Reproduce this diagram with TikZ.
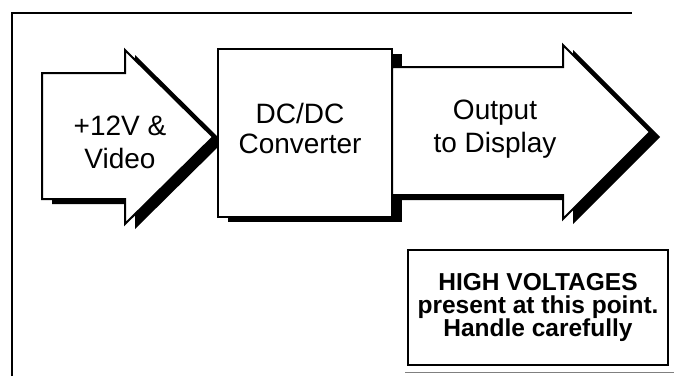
\documentclass[tikz,border=0pt]{standalone}
\usepackage{fontspec}
\setmainfont{Liberation Sans}
\usetikzlibrary{calc,positioning}
% outlines of the two big arrows and the converter block
\newcommand{\inshape}{(42,73) -- (125,73) -- (125,50) -- (213,137) -- (125,224) -- (125,199) -- (42,199) -- cycle}
\newcommand{\convshape}{(218,49) rectangle (392,217)}
\newcommand{\outshape}{(392,67) -- (563,67) -- (563,45) -- (650,132) -- (563,219) -- (563,195) -- (392,195) -- cycle}

\begin{document}
\begin{tikzpicture}%
  [x=1pt, y=-1pt, text=black,
   blk/.style={fill=white, draw=black, line width=2pt, line join=miter},
   shad/.style={fill=black, shift={(10,5)}},
   big/.style={font=\fontsize{28}{33}\selectfont, align=center},
   note/.style={font=\bfseries\fontsize{24.5}{23}\selectfont, align=center}]

  \useasboundingbox (0,0) rectangle (674,376);

  % frame
  \draw[line width=1.5pt] (12,376) -- (12,13) -- (632,13);
  \draw[line width=1pt, black!50] (405,372) -- (674,372);

  % input arrow
  \fill[shad] \inshape;
  \filldraw[blk] \inshape;
  % converter
  \fill[shad] \convshape;
  \filldraw[blk] \convshape;
  % output arrow
  \fill[shad] \outshape;
  \filldraw[blk] \outshape;

  \node (vin) at (120,142) [big] {+12V \&\\Video};
  \node (conv) at (300,128.5) [big, font=\fontsize{28}{30}\selectfont] {DC/DC\\Converter};
  \node (vout) at (495,129.5) [big] {Output\\to Display};

  \node (warn) at (538,307.5) [draw, line width=1.5pt, minimum width=260,
        minimum height=115, note]
        {HIGH VOLTAGES\\present at this point.\\Handle carefully};

\end{tikzpicture}
\end{document}
